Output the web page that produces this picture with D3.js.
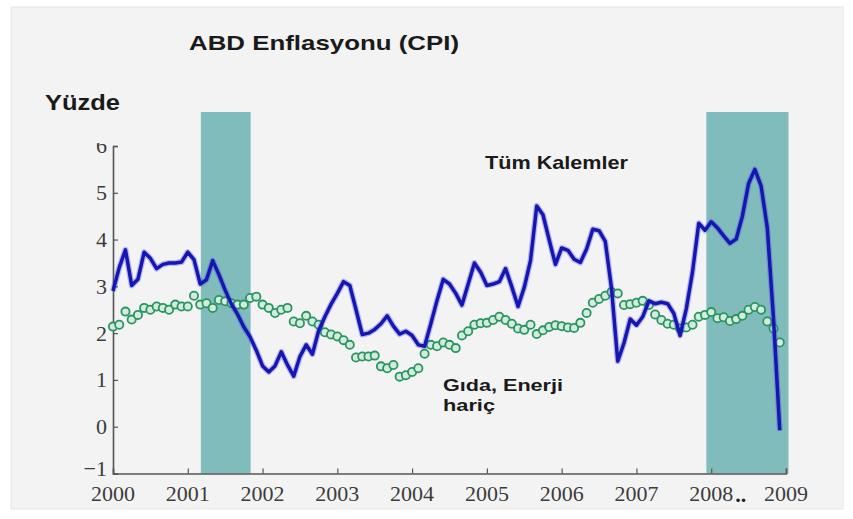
<!DOCTYPE html>
<html><head><meta charset="utf-8">
<script src="https://cdn.jsdelivr.net/npm/d3@7"></script>
<style>body{margin:0;background:#ffffff}</style>
</head><body><svg id="c" width="853" height="519"></svg>
<script>
// ---- data ----
const yearTicks = [2000,2001,2002,2003,2004,2005,2006,2007,2008,2009];
const yTicks = [-1,0,1,2,3,4,5,6];
const recessionStart = [2001.175, 2007.935];
const recessionEnd   = [2001.84, 2009.033];
// Tüm Kalemler (all items CPI, % y/y), monthly Jan 2000 - Dec 2008
const allItems = [
  2.9, 3.4, 3.78, 3.02, 3.15, 3.73, 3.6, 3.38, 3.47, 3.5, 3.5, 3.52,
  3.73, 3.57, 3.05, 3.14, 3.55, 3.25, 2.92, 2.62, 2.4, 2.13, 1.92, 1.63,
  1.3, 1.17, 1.3, 1.6, 1.32, 1.08, 1.5, 1.75, 1.55, 2.05, 2.35, 2.62,
  2.85, 3.1, 3.02, 2.5, 1.97, 2.0, 2.08, 2.2, 2.37, 2.15, 1.98, 2.04,
  1.95, 1.75, 1.72, 2.2, 2.7, 3.15, 3.05, 2.85, 2.6, 3.05, 3.5, 3.3,
  3.02, 3.05, 3.1, 3.38, 2.99, 2.57, 2.98, 3.55, 4.72, 4.53, 3.99, 3.47,
  3.82, 3.77, 3.58, 3.51, 3.8, 4.22, 4.19, 3.96, 2.96, 1.4, 1.79, 2.3,
  2.17, 2.35, 2.69, 2.63, 2.66, 2.63, 2.42, 1.95, 2.52, 3.31, 4.35, 4.2,
  4.38, 4.25, 4.08, 3.92, 4.01, 4.5, 5.2, 5.5, 5.15, 4.25, 2.3, -0.08
];
// Gıda, Enerji hariç (core CPI, % y/y)
const coreCPI = [
  2.14, 2.18, 2.46, 2.29, 2.39, 2.54, 2.5, 2.57, 2.54, 2.5, 2.61, 2.57,
  2.57, 2.8, 2.61, 2.64, 2.54, 2.71, 2.68, 2.64, 2.61, 2.61, 2.75, 2.78,
  2.61, 2.54, 2.43, 2.5, 2.54, 2.25, 2.21, 2.37, 2.25, 2.18, 2.02, 1.97,
  1.93, 1.85, 1.75, 1.48, 1.5, 1.5, 1.52, 1.29, 1.25, 1.32, 1.07, 1.1,
  1.17, 1.25, 1.56, 1.75, 1.72, 1.8, 1.75, 1.68, 1.95, 2.04, 2.18, 2.21,
  2.22, 2.28, 2.35, 2.28, 2.2, 2.1, 2.07, 2.18, 1.98, 2.06, 2.13, 2.17,
  2.15, 2.12, 2.11, 2.22, 2.43, 2.65, 2.73, 2.8, 2.88, 2.85, 2.6, 2.62,
  2.65, 2.69, 2.6, 2.4, 2.28, 2.2, 2.18, 2.1, 2.12, 2.18, 2.35, 2.39,
  2.45, 2.32, 2.34, 2.26, 2.3, 2.37, 2.5, 2.56, 2.5, 2.25, 2.1, 1.8
];
const titleText = "ABD Enflasyonu (CPI)";
const yUnitText = "Yüzde";
const seriesLabel1 = "Tüm Kalemler";
const seriesLabel2 = ["Gıda, Enerji", "hariç"];

// ---- layout ----
const svg = d3.select("#c");
const x = d3.scaleLinear().domain([2000, 2009]).range([113, 786]);
const y = d3.scaleLinear().domain([-1, 6]).range([473.5, 146]);
const shadeTopPx = 112;
const months = allItems.map((d, i) => 2000 + i / 12);

// panel background
svg.append("rect").attr("x", 11).attr("y", 7).attr("width", 832).attr("height", 502)
  .attr("fill", "#f3f3f3").attr("stroke", "#e6e6e6");

// recession shading
svg.append("g").selectAll("rect").data(recessionStart).join("rect")
  .attr("x", (d) => x(d))
  .attr("width", (d, i) => x(recessionEnd[i]) - x(d))
  .attr("y", shadeTopPx)
  .attr("height", y(-1) - shadeTopPx)
  .attr("fill", "#80bcbc");

// axes
const serif = "'Liberation Serif','Times New Roman',serif";
const sans = "'Liberation Sans',Arial,sans-serif";

svg.append("defs").append("clipPath").attr("id", "yclip")
  .append("rect").attr("x", 0).attr("y", 143).attr("width", 120).attr("height", 360);

const yAxis = svg.append("g").attr("transform", `translate(${x(2000)},0)`)
  .call(d3.axisRight(y).tickValues(yTicks).tickSize(5).tickFormat(""));
yAxis.select(".domain").attr("stroke", "#555").attr("stroke-width", 1.6);
yAxis.selectAll(".tick line").attr("stroke", "#555").attr("stroke-width", 1.2);

svg.append("g").attr("clip-path", "url(#yclip)").selectAll("text").data(yTicks).join("text")
  .attr("x", x(2000) - 6).attr("y", (d) => y(d)).attr("dy", (d) => d < 0 ? "0.12em" : "0.34em")
  .attr("text-anchor", "end")
  .attr("font-family", serif).attr("font-size", 22).attr("fill", "#3c3c3c")
  .text((d) => d < 0 ? "\u22121" : String(d));

const xAxis = svg.append("g").attr("transform", `translate(0,${y(-1)})`)
  .call(d3.axisTop(x).tickValues(yearTicks).tickSize(5).tickFormat(""));
xAxis.select(".domain").attr("stroke", "#555").attr("stroke-width", 1.6);
xAxis.selectAll(".tick line").attr("stroke", "#555").attr("stroke-width", 1.2);

svg.append("g").selectAll("text").data(yearTicks).join("text")
  .attr("x", (d) => x(d)).attr("y", 501)
  .attr("text-anchor", "middle")
  .attr("font-family", serif).attr("font-size", 22).attr("fill", "#3c3c3c")
  .text((d) => String(d));
svg.append("text").attr("x", x(2008) + 24).attr("y", 502)
  .attr("font-family", serif).attr("font-size", 22).attr("font-weight", "bold").attr("fill", "#222").text("..");

// core CPI circles
svg.append("g").selectAll("circle").data(coreCPI).join("circle")
  .attr("cx", (d, i) => x(months[i])).attr("cy", (d) => y(d)).attr("r", 4.1)
  .attr("fill", "#d4ecdb").attr("stroke", "#2a9462").attr("stroke-width", 1.8);

// all items line
const line = d3.line().x((d, i) => x(months[i])).y((d) => y(d));
svg.append("path").datum(allItems).attr("d", line)
  .attr("fill", "none").attr("stroke", "#4a4ae6").attr("stroke-opacity", 0.35)
  .attr("stroke-width", 6).attr("stroke-linejoin", "round");
svg.append("path").datum(allItems).attr("d", line)
  .attr("fill", "none").attr("stroke", "#1616b0")
  .attr("stroke-width", 3.5).attr("stroke-linejoin", "round");

// texts
svg.append("text").attr("x", 189).attr("y", 50)
  .attr("font-family", sans).attr("font-size", 21).attr("font-weight", "bold").attr("fill", "#1a1a1a")
  .attr("textLength", 270).attr("lengthAdjust", "spacingAndGlyphs")
  .text(titleText);
svg.append("text").attr("x", 45).attr("y", 110)
  .attr("font-family", sans).attr("font-size", 22).attr("font-weight", "bold").attr("fill", "#1a1a1a")
  .attr("textLength", 75).attr("lengthAdjust", "spacingAndGlyphs")
  .text(yUnitText);
svg.append("text").attr("x", 485).attr("y", 169)
  .attr("font-family", sans).attr("font-size", 19).attr("font-weight", "bold").attr("fill", "#1a1a1a")
  .attr("textLength", 143).attr("lengthAdjust", "spacingAndGlyphs")
  .text(seriesLabel1);
const lbl2Len = [120, 52];
svg.append("g").selectAll("text").data(seriesLabel2).join("text")
  .attr("x", 443).attr("y", (d, i) => 391 + i * 20)
  .attr("font-family", sans).attr("font-size", 17).attr("font-weight", "bold").attr("fill", "#1a1a1a")
  .attr("textLength", (d, i) => lbl2Len[i]).attr("lengthAdjust", "spacingAndGlyphs")
  .text((d) => d);
</script>
</body></html>
